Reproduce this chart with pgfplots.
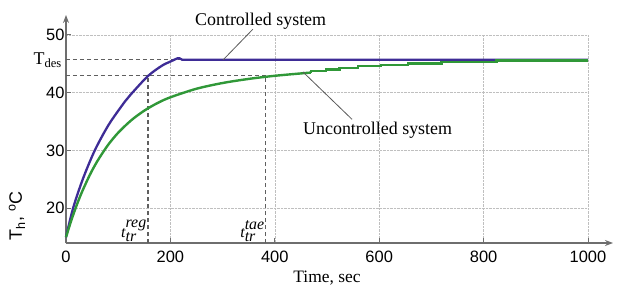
\documentclass[border=0pt]{standalone}
\usepackage{fontspec}
\setmainfont{Liberation Serif}
\newfontfamily\arial{Liberation Sans}
\usepackage{pgfplots}
\pgfplotsset{compat=1.18}
\usetikzlibrary{arrows.meta,calc}
\definecolor{axgray}{RGB}{110,110,110}
\definecolor{ctrlblue}{RGB}{62,44,150}
\definecolor{uncgreen}{RGB}{48,152,56}
\definecolor{dashgray}{RGB}{95,95,95}
\begin{document}
\begin{tikzpicture}
\begin{axis}[
  name=ax,
  scale only axis, width=522bp, height=208bp,
  xmin=0, xmax=1000, ymin=14, ymax=50,
  axis x line=bottom, axis y line=left,
  axis line style={draw=axgray, line width=1.4bp},
  x axis line style={-{Stealth[length=8bp,width=6bp]}, shorten >=-25bp},
  y axis line style={-{Stealth[length=8bp,width=6bp]}, shorten >=-20bp},
  xtick={0,200,400,600,800,1000}, ytick={20,30,40,50},
  tick align=inside, major tick length=5bp,
  tick style={draw=axgray, line width=1bp},
  grid=major, grid style={densely dotted, draw=black!25, line width=0.6bp},
  /pgf/number format/assume math mode=true,
  /pgf/number format/1000 sep={},
  tick label style={font=\arial\fontsize{16.5}{18}\selectfont},
  xticklabel style={yshift=-5bp},
  yticklabel style={xshift=2bp},
  xlabel={Time, sec},
  xlabel style={font=\fontsize{17.5}{20}\selectfont, yshift=-1bp},
  clip=false,
]
% reference dashed lines
\addplot[forget plot, dashgray, line width=1.1bp, dash pattern=on 4bp off 3bp] coordinates {(0,45.7) (820,45.7)};
\addplot[forget plot, dashgray, line width=1.1bp, dash pattern=on 4bp off 3bp] coordinates {(0,43.0) (383,43.0)};
\addplot[forget plot, dashgray, line width=1.1bp, dash pattern=on 4bp off 3bp] coordinates {(157,14) (157,43.0)};
\addplot[forget plot, dashgray, line width=1.1bp, dash pattern=on 4bp off 3bp] coordinates {(383,14) (383,43.0)};
% controlled system: rise
\addplot[ctrlblue, line width=2.3bp, smooth, tension=0.5] coordinates {
(0,15.0) (13.5,20.0) (32,25.0) (55,30.0) (82,34.5) (113,38.5) (124,39.7)
(157,42.9) (184,44.7) (200,45.4) (213,45.95)};
% controlled system: hold
\addplot[forget plot, ctrlblue, line width=2.3bp, line join=round] coordinates {
(213,45.95) (218,45.95) (223,45.7) (1000,45.7)};
% uncontrolled system: rise
\addplot[uncgreen, line width=2.4bp, smooth, tension=0.5] coordinates {
(0,15.0) (10,17.87) (20,20.43) (30,22.71) (45,25.67) (60,28.16) (80,30.9)
(100,33.09) (125,35.24) (150,36.91) (175,38.21) (200,39.22) (250,40.7)
(300,41.69) (350,42.4) (400,42.94) (450,43.35) (469,43.5)};
% uncontrolled system: quantised tail
\addplot[forget plot, uncgreen, line width=2.4bp] coordinates {
(469,43.5) (469,43.8) (498,43.8) (498,44.05) (524,44.05) (524,44.3) (559,44.3) (559,44.6)
(604,44.6) (604,44.85) (655,44.85) (655,45.1) (719,45.1) (719,45.35) (825,45.35)
(825,45.6) (1000,45.6)};
% leader lines
\addplot[forget plot, black!65, line width=0.8bp] coordinates {(358,51.0) (301,45.7)};
\addplot[forget plot, black!65, line width=0.8bp] coordinates {(454,43.6) (548,35.4)};
% annotations
\node[anchor=base west, inner sep=0pt, font=\fontsize{18}{20}\selectfont] at (axis cs:247,51.7) {Controlled system};
\node[anchor=base west, inner sep=0pt, font=\fontsize{18}{20}\selectfont] at (axis cs:454,32.85) {Uncontrolled system};
\node[anchor=east, inner sep=0pt, xshift=-4bp, font=\fontsize{18}{20}\selectfont] at (axis cs:0,45.7) {T\textsubscript{des}};
\node[anchor=south east, inner sep=1bp, font=\fontsize{16}{18}\selectfont] at (axis cs:157,14) {$\textit{t}_{\textit{tr}}^{\raisebox{2bp}{\textit{reg}}}$};
\node[anchor=south east, inner sep=1bp, font=\fontsize{16}{18}\selectfont] at (axis cs:383,14) {$\textit{t}_{\textit{tr}}^{\raisebox{2bp}{\textit{tae}}}$};
\node[rotate=90, anchor=center, inner sep=0pt, font=\arial\fontsize{18}{20}\selectfont] at ($(axis cs:0,32.7)+(-49bp,0)$) {T\textsubscript{h}, \textsuperscript{o}C};
\end{axis}
\pgfresetboundingbox
\path ($(ax.south west)+(-66bp,-49bp)$) rectangle ($(ax.south west)+(551bp,243bp)$);
\end{tikzpicture}
\end{document}
